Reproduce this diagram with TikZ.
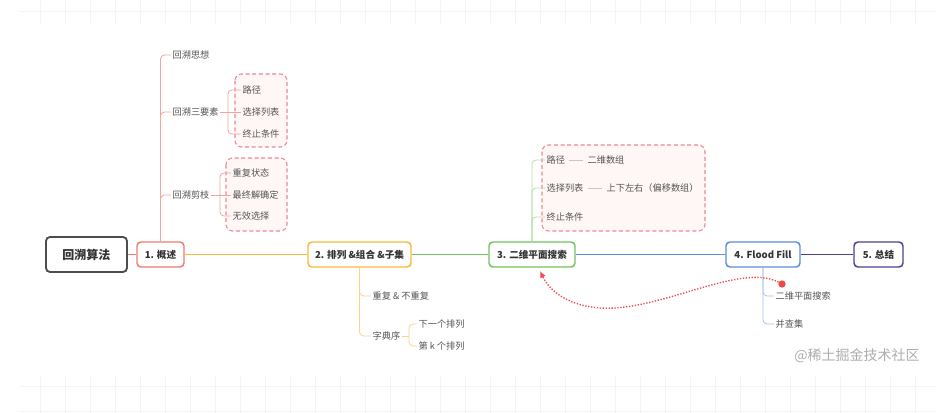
\documentclass[tikz,border=0pt]{standalone}
\usepackage{fontspec}
\setmainfont{Noto Sans CJK SC}
\usetikzlibrary{arrows.meta}
\definecolor{rootc}{HTML}{4D4D4D}
\definecolor{c1}{HTML}{EE7B6E}
\definecolor{c1l}{HTML}{F3A59C}
\definecolor{c2}{HTML}{F6B93B}
\definecolor{c2l}{HTML}{F9D48A}
\definecolor{c3}{HTML}{72C25F}
\definecolor{c3l}{HTML}{B3DDA8}
\definecolor{c4}{HTML}{5B8FDB}
\definecolor{c4l}{HTML}{A9C3EC}
\definecolor{c5}{HTML}{4F3F93}
\definecolor{txt}{HTML}{555555}
\definecolor{dashc}{HTML}{EB8A92}
\definecolor{dashfill}{HTML}{FFF6F6}
\definecolor{gridc}{HTML}{F4F4F4}
\definecolor{arrowc}{HTML}{F04848}
\tikzset{
  mainbox/.style={draw, rounded corners=3pt, line width=1.1pt, fill=white,
    font=\fontsize{7.2}{9}\selectfont\bfseries, text=black!80,
    minimum height={25*0.75pt}, inner sep=0pt},
  leaf/.style={anchor=west, inner xsep=1pt, inner ysep=1pt,
    font=\fontsize{6.9}{8}\selectfont, text=txt},
  grp/.style={draw=dashc, dash pattern=on 3pt off 2pt, fill=dashfill,
    rounded corners=5pt, line width=0.8pt},
  brl/.style={line width=0.6pt, rounded corners=3pt},
  mainline/.style={line width=1pt},
  gridline/.style={draw=gridc, line width=0.5pt}
}
\begin{document}
\begin{tikzpicture}[x=0.75pt,y=-0.75pt]
\useasboundingbox (0,0) rectangle (951,413);
\fill[white] (0,0) rectangle (951,413);
% faint grid bands
\foreach \x in {40,65,...,935} \draw[gridline] (\x,0) -- (\x,25);
\draw[gridline] (20,11) -- (936,11);
\foreach \x in {40,65,...,935} \draw[gridline] (\x,376) -- (\x,413);
\draw[gridline] (20,386) -- (936,386);
\draw[gridline] (20,411) -- (936,411);

% dashed group boxes
\draw[grp] (235,74) rectangle (287,147);
\draw[grp] (226,158) rectangle (287,231);
\draw[grp] (542,145) rectangle (705,231);

% main nodes
\node[mainbox, draw=rootc, line width=1.4pt, minimum width={81*0.75pt}, minimum height={35*0.75pt},
  font=\fontsize{9}{11}\selectfont\bfseries] (root) at (86.5,254.5) {回溯算法};
\node[mainbox, draw=c1, minimum width={47*0.75pt}] (n1) at (160.5,254.5) {1. 概述};
\node[mainbox, draw=c2, minimum width={103*0.75pt}] (n2) at (359.5,254.5) {2. 排列 \&组合 \&子集};
\node[mainbox, draw=c3, minimum width={86*0.75pt}] (n3) at (532,254.5) {3. 二维平面搜索};
\node[mainbox, draw=c4, minimum width={74*0.75pt}] (n4) at (763,254.5) {4. Flood Fill};
\node[mainbox, draw=c5, minimum width={49*0.75pt}] (n5) at (878.5,254.5) {5. 总结};

\draw[mainline, c1] (root.east) -- (n1.west);
\draw[mainline, c2] (n1.east) -- (n2.west);
\draw[mainline, c3] (n2.east) -- (n3.west);
\draw[mainline, c4] (n3.east) -- (n4.west);
\draw[mainline, c5] (n4.east) -- (n5.west);

% branch 1
\node[leaf] (a1) at (171,55) {回溯思想};
\node[leaf] (a2) at (171,112) {回溯三要素};
\node[leaf] (a3) at (171,195) {回溯剪枝};
\draw[brl, c1l] (n1.north) |- (a1.west);
\draw[brl, c1l] (n1.north) |- (a2.west);
\draw[brl, c1l] (n1.north) |- (a3.west);

\node[leaf] (b1) at (241,90) {路径};
\node[leaf] (b2) at (241,112) {选择列表};
\node[leaf] (b3) at (241,134) {终止条件};
\coordinate (j2) at (228,112);
\draw[brl, c1l] (a2.east) -- (j2);
\draw[brl, c1l] (j2) |- (b1.west);
\draw[brl, c1l] (j2) -- (b2.west);
\draw[brl, c1l] (j2) |- (b3.west);

\node[leaf] (c1n) at (231,173) {重复状态};
\node[leaf] (c2n) at (231,195) {最终解确定};
\node[leaf] (c3n) at (231,216) {无效选择};
\coordinate (j3) at (220,195);
\draw[brl, c1l] (a3.east) -- (j3);
\draw[brl, c1l] (j3) |- (c1n.west);
\draw[brl, c1l] (j3) -- (c2n.west);
\draw[brl, c1l] (j3) |- (c3n.west);

% branch 2
\node[leaf] (d1) at (371,296) {重复 \& 不重复};
\node[leaf] (d2) at (371,336) {字典序};
\draw[brl, c2l] (n2.south) |- (d1.west);
\draw[brl, c2l] (n2.south) |- (d2.west);
\node[leaf] (e1) at (417,324) {下一个排列};
\node[leaf] (e2) at (417,346) {第 k 个排列};
\coordinate (j4) at (409,336);
\draw[brl, c2l] (d2.east) -- (j4);
\draw[brl, c2l] (j4) |- (e1.west);
\draw[brl, c2l] (j4) |- (e2.west);

% branch 3
\node[leaf] (f1) at (545,160) {路径};
\node[leaf] (f2) at (545,188) {选择列表};
\node[leaf] (f3) at (545,217) {终止条件};
\draw[brl, c3l] (n3.north) |- (f1.west);
\draw[brl, c3l] (n3.north) |- (f2.west);
\draw[brl, c3l] (n3.north) |- (f3.west);
\node[leaf] (g1) at (586,160) {二维数组};
\node[leaf] (g2) at (605,188) {上下左右（偏移数组）};
\draw[brl, black!22] ([xshift=2pt]f1.east) -- ([xshift=-2pt]g1.west);
\draw[brl, black!22] ([xshift=2pt]f2.east) -- ([xshift=-2pt]g2.west);

% branch 4
\node[leaf] (h1) at (774,296) {二维平面搜索};
\node[leaf] (h2) at (774,324) {并查集};
\draw[brl, c4l] (n4.south) |- (h1.west);
\draw[brl, c4l] (n4.south) |- (h2.west);

% dotted relation arrow
\node[circle, fill=arrowc, inner sep=0pt, minimum size=5.5pt] (dot) at (782,284) {};
\coordinate (tip) at (540,271);
\draw[arrowc, line width=1pt, dash pattern=on 1pt off 1.2pt, -{Latex[length=5pt,width=4.5pt]}]
  (dot) .. controls (740,262) and (660,312) .. (600,308)
        .. controls (570,306) and (550,292) .. (tip);

% watermark
\node[anchor=west, inner sep=0pt, font=\fontsize{10.5}{12}\selectfont, text=black!32] (wm) at (794,356) {@稀土掘金技术社区};
\end{tikzpicture}
\end{document}
